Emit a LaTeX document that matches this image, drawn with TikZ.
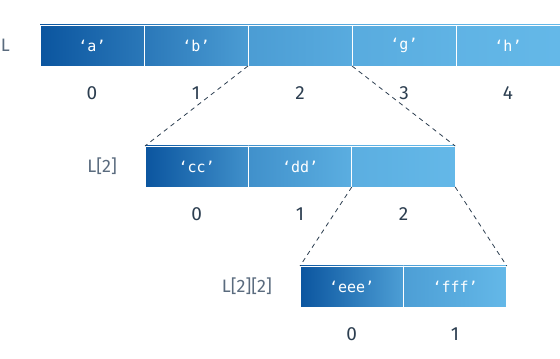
\documentclass[tikz,border=0pt]{standalone}
\usepackage{fontspec}
\setmainfont{Fira Sans}
\newfontfamily\cellfont{DejaVu Sans Mono}
\usepackage{xcolor}
\usepackage{tikz}
\usetikzlibrary{positioning}
\definecolor{blueL}{HTML}{0B559F}
\definecolor{blueR}{HTML}{64B8E8}
\definecolor{idxcol}{HTML}{2C3E50}
\definecolor{lblcol}{HTML}{5A6B7E}

\begin{document}
\begin{tikzpicture}[x=1pt, y=1pt,
  cell/.style={minimum width=104pt, minimum height=41pt, inner sep=0pt, outer sep=0pt,
    draw=white, line width=0.8pt, text=white, font=\cellfont\fontsize{15}{15}\selectfont},
  grad/.style 2 args={left color=blueR!#1!blueL, right color=blueR!#2!blueL},
  idx/.style={anchor=center, text=idxcol, font=\fontsize{19}{19}\selectfont},
  lbl/.style={inner sep=0pt, text=lblcol, font=\fontsize{18}{18}\selectfont},
  link/.style={draw=idxcol, line width=0.8pt, dash pattern=on 4.5pt off 4pt}]
  \useasboundingbox (0,0) rectangle (560,359);

  \node[cell, grad={0}{35}] (c0) at (92,313.5) {‘a’};
  \node[cell, grad={35}{72}] (c1) [right=0pt of c0] {‘b’};
  \node[cell, grad={72}{87}] (c2) [right=0pt of c1] {};
  \node[cell, grad={87}{95}] (c3) [right=0pt of c2] {‘g’};
  \node[cell, grad={95}{100}] (c4) [right=0pt of c3] {‘h’};
  \node[lbl] (L) [left=30pt of c0] {L};

  \node[cell, minimum width=103.4pt, grad={0}{60}] (d0) at (196.7,192.5) {‘cc’};
  \node[cell, minimum width=103.4pt, grad={60}{90}] (d1) [right=0pt of d0] {‘dd’};
  \node[cell, minimum width=103.4pt, grad={90}{100}] (d2) [right=0pt of d1] {};
  \node[lbl] (L2) [left=28pt of d0] {L[2]};

  \node[cell, minimum width=103.4pt, grad={0}{74}] (e0) at (351.7,72.5) {‘eee’};
  \node[cell, minimum width=103.4pt, grad={74}{100}] (e1) [right=0pt of e0] {‘fff’};
  \node[lbl] (L22) [left=28pt of e0] {L[2][2]};

  \foreach \i in {0,...,4}
    \node[idx] (ci\i) [below=27pt of c\i.south, anchor=center] {\i};
  \foreach \i in {0,...,2}
    \node[idx] (di\i) [below=27pt of d\i.south, anchor=center] {\i};
  \foreach \i in {0,1}
    \node[idx] (ei\i) [below=27pt of e\i.south, anchor=center] {\i};

  \draw[link] (c2.south west) -- (d0.north west);
  \draw[link] (c2.south east) -- (d2.north east);
  \draw[link] (d2.south west) -- (e0.north west);
  \draw[link] (d2.south east) -- (e1.north east);
\end{tikzpicture}
\end{document}
